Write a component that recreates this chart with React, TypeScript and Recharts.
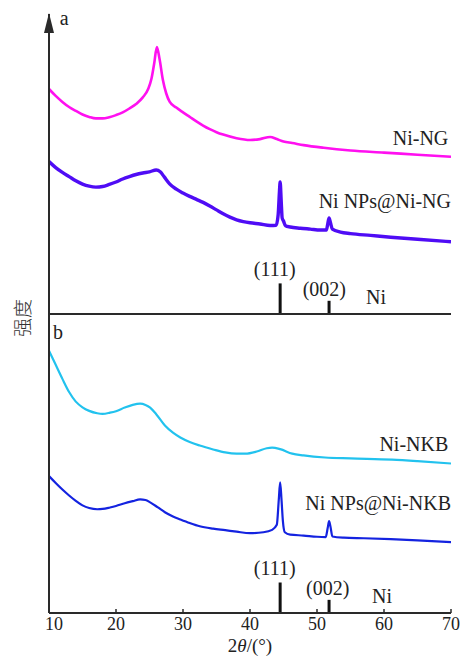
import React from 'react';
import { LineChart, Line, XAxis, YAxis, ReferenceLine, ReferenceDot } from 'recharts';

// ---------- data (2θ in degrees, intensity in arbitrary units) ----------
const xTicks = [10, 20, 30, 40, 50, 60, 70];

const niNG: number[][] = [
  [10, 75], [11, 72.7], [12, 70.7], [13, 69], [14, 67.7], [15, 66.5], [16, 65.7], [17, 65.2],
  [18, 65.2], [19, 65.6], [20, 66.3], [21, 67.2], [22, 68.5], [23, 70], [24, 72.2], [24.8, 75],
  [25.3, 78.5], [25.7, 83.5], [26.1, 89], [26.5, 85], [27, 78], [27.5, 73.5], [28, 70.8], [29, 68.8],
  [30, 67.2], [31, 65.7], [32, 64.2], [33, 62.8], [34, 61.6], [35, 60.6], [36, 59.8], [38, 58.6],
  [40, 58], [41.5, 58.3], [43, 59], [44, 58.3], [45, 57.5], [46.3, 57], [48, 56.3], [51, 55.4],
  [55, 54.5], [60, 53.8], [65, 53.1], [70, 52.4],
];

const niNPsNG: number[][] = [
  [10, 50.8], [11, 48.8], [12, 47.2], [13, 45.8], [14, 44.4], [15, 43.3], [16, 42.6], [17, 42.3],
  [18, 42.5], [19, 43.2], [20, 44], [21, 45], [22, 45.8], [23, 46.5], [24, 47], [25, 47.4],
  [26, 48], [26.6, 47.4], [27.2, 45.7], [28, 43.4], [29, 41.6], [30, 40.3], [31, 39.2], [32, 38.2],
  [33, 37.2], [34, 36], [35, 34.7], [36, 33.4], [37, 32.3], [38, 31.4], [39, 30.8], [40, 30.4],
  [41.5, 30], [43, 29.5], [43.9, 29.6], [44.2, 33], [44.4, 41], [44.5, 44], [44.65, 38], [44.8, 32],
  [45, 31], [45.3, 29.4], [46, 29], [47.5, 28.6], [49, 28.3], [50.5, 28], [51.4, 28], [51.6, 30],
  [51.8, 32], [52, 30.5], [52.3, 28.3], [53.5, 27.3], [55, 26.8], [58, 26.2], [61, 25.6], [65, 24.9],
  [70, 24.1],
];

const niNKB: number[][] = [
  [10, 87.7], [11, 83], [12, 78.3], [13, 73.9], [14, 70.7], [15, 68.8], [16, 67.6], [17.2, 66.8],
  [18, 66.6], [19.1, 67], [20, 67.5], [21.3, 68.7], [22.5, 69.6], [23.6, 70], [24.4, 69.6],
  [25.1, 68.7], [26, 66.5], [27.3, 62.7], [28.5, 60.3], [29.6, 58.7], [31, 57.2], [32.5, 56],
  [34.5, 54.7], [36.3, 53.7], [38, 53.3], [39.3, 53.3], [41, 54], [42.5, 55.1], [43.3, 55.3],
  [44.5, 54.8], [46.3, 53.3], [48, 52.7], [51.2, 52], [55, 51.7], [61.2, 51.3], [65, 50.8], [70, 50],
];

const niNPsNKB: number[][] = [
  [10, 45.8], [11, 43.5], [12, 41.3], [13, 39.3], [14, 37.5], [15, 36], [16, 35.1], [17.2, 34.7],
  [18, 34.8], [19.1, 35.3], [20, 35.8], [21.3, 36.7], [22.5, 37.4], [23.6, 38], [24.4, 37.8],
  [25.1, 37], [26.2, 35.4], [27.3, 33.7], [28.5, 32.3], [29.6, 31.3], [31, 30.1], [32.5, 29],
  [34.5, 28.2], [36.3, 27.7], [38, 27.2], [40, 26.7], [42, 27], [43.3, 27.8], [44, 29.5],
  [44.3, 38], [44.5, 43.7], [44.7, 38], [44.9, 31], [45.2, 27], [46, 26.2], [48, 25.9], [50, 25.5],
  [51.3, 25.4], [51.6, 28.5], [51.8, 30.7], [52, 29], [52.3, 25.6], [54, 25.2], [57, 25], [61, 24.7],
  [65, 24.3], [70, 23.7],
];

// Ni standard reflections (position, relative height)
const niPeaks = [
  { pos: 44.5, intensity: 10.2, hkl: '(111)' },
  { pos: 51.8, intensity: 4.4, hkl: '(002)' },
];

// ---------- annotations (data coordinates) ----------
const labelsA = [
  { text: 'a', x: 11.6, y: 96.3, anchor: 'start' },
  { text: 'Ni-NG', x: 69.6, y: 56.3, anchor: 'end' },
  { text: 'Ni NPs@Ni-NG', x: 70, y: 35.3, anchor: 'end' },
  { text: '(111)', x: 43.7, y: 12.8, anchor: 'middle' },
  { text: '(002)', x: 51.1, y: 6.0, anchor: 'middle' },
  { text: 'Ni', x: 58.8, y: 3.2, anchor: 'middle' },
];
const labelsB = [
  { text: 'b', x: 10.6, y: 91.7, anchor: 'start' },
  { text: 'Ni-NKB', x: 69.6, y: 54.3, anchor: 'end' },
  { text: 'Ni NPs@Ni-NKB', x: 70, y: 34.3, anchor: 'end' },
  { text: '(111)', x: 43.7, y: 12.8, anchor: 'middle' },
  { text: '(002)', x: 51.6, y: 6.0, anchor: 'middle' },
  { text: 'Ni', x: 59.7, y: 3.2, anchor: 'middle' },
];

const SERIF = '"Liberation Serif", "Times New Roman", serif';
const AX = '#2a2a2a';
const TXT = '#222';
const W = 465;

const toPts = (arr: number[][]) => arr.map(([x, y]) => ({ x, y }));

const textShape = (text: string, anchor: string) => (p: any) => (
  <text x={p.cx} y={p.cy} textAnchor={anchor} fontFamily={SERIF} fontSize={20} fill={TXT}>
    {text}
  </text>
);

const arrowShape = (p: any) => (
  <polygon
    points={`${p.cx},${p.cy - 1} ${p.cx - 5},${p.cy + 19} ${p.cx + 5},${p.cy + 19}`}
    fill={AX}
  />
);

const XTick = (p: any) => {
  const v = p.payload.value;
  const dx = v === 10 ? 5 : 0;
  return (
    <text x={p.x + dx} y={p.y} dy="0.71em" textAnchor="middle" fontFamily={SERIF} fontSize={18} fill={TXT}>
      {v}
    </text>
  );
};

const XLabel = (p: any) => {
  const vb = p.viewBox || { x: 49, y: 313, width: 402 };
  return (
    <text x={vb.x + vb.width / 2} y={vb.y + 39} textAnchor="middle" fontFamily={SERIF} fontSize={19} fill={TXT}>
      2<tspan fontStyle="italic">θ</tspan>/(°)
    </text>
  );
};

const refBars = () =>
  niPeaks.map((pk) => (
    <ReferenceLine
      key={pk.hkl}
      segment={[{ x: pk.pos, y: 0 }, { x: pk.pos, y: pk.intensity }]}
      stroke="#111"
      strokeWidth={3}
    />
  ));

const labelDots = (labels: typeof labelsA, prefix: string) =>
  labels.map((l, i) => (
    <ReferenceDot key={prefix + i} x={l.x} y={l.y} r={0} shape={textShape(l.text, l.anchor)} />
  ));

export default function App() {
  return (
    <div style={{ position: 'absolute', left: 0, top: 0, width: W, height: 661, background: '#fff' }}>
      <div style={{ position: 'absolute', left: 0, top: 0 }}>
        <LineChart width={W} height={316} margin={{ top: 14, right: 14, bottom: 0, left: 0 }}>
          <XAxis
            type="number"
            dataKey="x"
            domain={[10, 70]}
            allowDataOverflow
            height={2}
            tick={false}
            tickLine={false}
            axisLine={{ stroke: AX, strokeWidth: 2 }}
          />
          <YAxis
            type="number"
            domain={[0, 100]}
            allowDataOverflow
            width={49}
            tick={false}
            tickLine={false}
            axisLine={{ stroke: AX, strokeWidth: 2 }}
          />
          <Line data={toPts(niNG)} dataKey="y" type="monotone" stroke="#ff10f0" strokeWidth={2.6} dot={false} activeDot={false} isAnimationActive={false} />
          <Line data={toPts(niNPsNG)} dataKey="y" type="monotone" stroke="#4f0cf5" strokeWidth={3.4} dot={false} activeDot={false} isAnimationActive={false} />
          {refBars()}
          {labelDots(labelsA, 'a')}
          <ReferenceDot x={10} y={100} r={0} shape={arrowShape} />
        </LineChart>
      </div>
      <div style={{ position: 'absolute', left: 0, top: 300 }}>
        <LineChart width={W} height={361} margin={{ top: 14, right: 14, bottom: 0, left: 0 }}>
          <XAxis
            type="number"
            dataKey="x"
            domain={[10, 70]}
            allowDataOverflow
            ticks={xTicks}
            height={48}
            axisLine={{ stroke: AX, strokeWidth: 2 }}
            tickLine={{ stroke: AX, strokeWidth: 1.5 }}
            tickSize={-4}
            tickMargin={8}
            tick={<XTick />}
            label={{ content: XLabel }}
          />
          <YAxis
            type="number"
            domain={[0, 100]}
            allowDataOverflow
            width={49}
            tick={false}
            tickLine={false}
            axisLine={{ stroke: AX, strokeWidth: 2 }}
          />
          <Line data={toPts(niNKB)} dataKey="y" type="monotone" stroke="#22c2ee" strokeWidth={2.2} dot={false} activeDot={false} isAnimationActive={false} />
          <Line data={toPts(niNPsNKB)} dataKey="y" type="monotone" stroke="#1423e0" strokeWidth={2.2} dot={false} activeDot={false} isAnimationActive={false} />
          {refBars()}
          {labelDots(labelsB, 'b')}
        </LineChart>
      </div>
      <div
        style={{
          position: 'absolute',
          left: 21,
          top: 318,
          transform: 'translate(-50%, -50%) rotate(-90deg)',
          fontFamily: '"Noto Sans CJK SC", sans-serif',
          fontSize: 19,
          lineHeight: 1,
          whiteSpace: 'nowrap',
          color: '#333',
          fontWeight: 300,
        }}
      >
        强度
      </div>
    </div>
  );
}
